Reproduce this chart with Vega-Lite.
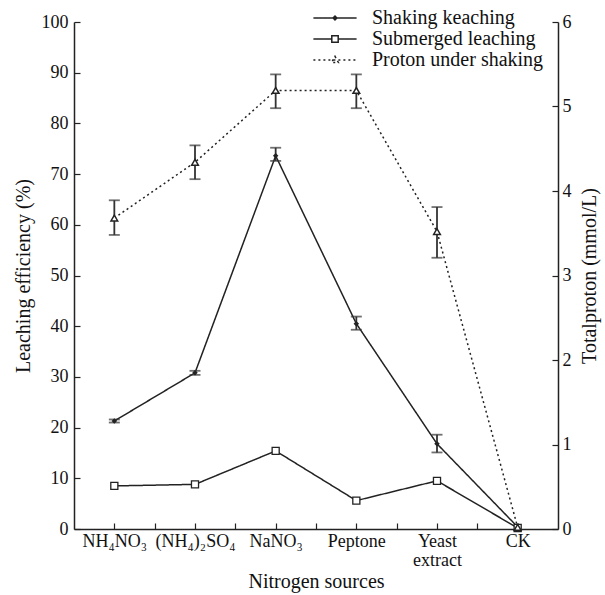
{
  "$schema": "https://vega.github.io/schema/vega-lite/v6.json",
  "width": 484,
  "height": 507,
  "autosize": {"type": "none"},
  "padding": {"left": 74, "top": 22, "right": 47, "bottom": 66},
  "background": "white",
  "config": {
    "font": "Liberation Serif",
    "view": {"stroke": null},
    "axis": {
      "grid": false,
      "domainColor": "#222",
      "domainWidth": 1.5,
      "tickColor": "#222",
      "tickWidth": 1.2,
      "tickSize": -6,
      "labelColor": "#111",
      "titleColor": "#111",
      "labelFont": "Liberation Serif",
      "titleFont": "Liberation Serif",
      "labelFontSize": 18,
      "titleFontSize": 20,
      "titleFontWeight": "normal"
    },
    "legend": {
      "labelFont": "Liberation Serif",
      "labelFontSize": 20,
      "labelColor": "#111",
      "labelLimit": 400
    }
  },
  "data": {
    "values": [
      {"idx": 1, "source": "NH4NO3", "series": "Shaking keaching", "value": 21.3, "lo": 21.0, "hi": 21.6},
      {"idx": 2, "source": "(NH4)2SO4", "series": "Shaking keaching", "value": 30.8, "lo": 30.4, "hi": 31.2},
      {"idx": 3, "source": "NaNO3", "series": "Shaking keaching", "value": 73.6, "lo": 72.6, "hi": 75.2},
      {"idx": 4, "source": "Peptone", "series": "Shaking keaching", "value": 40.5, "lo": 39.3, "hi": 41.9},
      {"idx": 5, "source": "Yeast extract", "series": "Shaking keaching", "value": 16.8, "lo": 15.1, "hi": 18.6},
      {"idx": 6, "source": "CK", "series": "Shaking keaching", "value": 0.4, "lo": null, "hi": null},
      {"idx": 1, "source": "NH4NO3", "series": "Submerged leaching", "value": 8.5, "lo": null, "hi": null},
      {"idx": 2, "source": "(NH4)2SO4", "series": "Submerged leaching", "value": 8.8, "lo": null, "hi": null},
      {"idx": 3, "source": "NaNO3", "series": "Submerged leaching", "value": 15.4, "lo": null, "hi": null},
      {"idx": 4, "source": "Peptone", "series": "Submerged leaching", "value": 5.6, "lo": null, "hi": null},
      {"idx": 5, "source": "Yeast extract", "series": "Submerged leaching", "value": 9.5, "lo": null, "hi": null},
      {"idx": 6, "source": "CK", "series": "Submerged leaching", "value": 0.2, "lo": null, "hi": null},
      {"idx": 1, "source": "NH4NO3", "series": "Proton under shaking", "value": 3.68, "lo": 3.48, "hi": 3.89},
      {"idx": 2, "source": "(NH4)2SO4", "series": "Proton under shaking", "value": 4.34, "lo": 4.14, "hi": 4.54},
      {"idx": 3, "source": "NaNO3", "series": "Proton under shaking", "value": 5.19, "lo": 4.98, "hi": 5.38},
      {"idx": 4, "source": "Peptone", "series": "Proton under shaking", "value": 5.19, "lo": 4.98, "hi": 5.38},
      {"idx": 5, "source": "Yeast extract", "series": "Proton under shaking", "value": 3.52, "lo": 3.21, "hi": 3.81},
      {"idx": 6, "source": "CK", "series": "Proton under shaking", "value": 0.02, "lo": null, "hi": null}
    ]
  },
  "encoding": {
    "x": {
      "field": "idx", "type": "quantitative",
      "scale": {"domain": [0.5, 6.5], "nice": false, "zero": false},
      "axis": {
        "title": "Nitrogen sources",
        "values": [1, 1.5, 2, 2.5, 3, 3.5, 4, 4.5, 5, 5.5, 6],
        "labelExpr": "['', 'NH₄NO₃', '(NH₄)₂SO₄', 'NaNO₃', 'Peptone', ['Yeast', 'extract'], 'CK'][datum.value] || ''",
        "labelPadding": 9,
        "labelFlush": false,
        "labelOverlap": false,
        "labelLineHeight": 19,
        "titlePadding": 2
      }
    }
  },
  "layer": [
    {
      "transform": [{"filter": "datum.series !== 'Proton under shaking'"}],
      "encoding": {
        "y": {
          "field": "value", "type": "quantitative",
          "scale": {"domain": [0, 100], "nice": false},
          "axis": {
            "title": "Leaching efficiency (%)",
            "values": [0, 10, 20, 30, 40, 50, 60, 70, 80, 90, 100],
            "labelPadding": 12,
            "titlePadding": 8
          }
        }
      },
      "layer": [
        {
          "mark": {"type": "line", "color": "#222", "strokeWidth": 1.5},
          "encoding": {
            "detail": {"field": "series"},
            "strokeDash": {
              "field": "series", "type": "nominal",
              "scale": {
                "domain": ["Shaking keaching", "Submerged leaching", "Proton under shaking"],
                "range": [[1, 0], [1, 0], [2, 3]]
              },
              "legend": {
                "title": null,
                "orient": "none",
                "legendX": 251,
                "legendY": -14,
                "padding": 0,
                "symbolSize": 256,
                "symbolStrokeColor": "#222",
                "symbolStrokeWidth": 1.5,
                "symbolFillColor": "white",
                "labelOffset": 27,
                "labelLimit": 400,
                "rowPadding": 1,
                "encode": {
                  "symbols": {
                    "update": {
                      "shape": {"signal": "datum.value === 'Shaking keaching' ? 'M-2.7,0H2.7M0,-0.25L0.25,0L0,0.25L-0.25,0Z' : datum.value === 'Submerged leaching' ? 'M-2.7,0H-0.4M0.4,0H2.7M-0.4,-0.4H0.4V0.4H-0.4Z' : 'M-2.7,0H2.7M0,-0.45L0.42,0.3H-0.42Z'"},
                      "fill": {"signal": "datum.value === 'Shaking keaching' ? '#222' : 'white'"},
                      "stroke": {"value": "#222"},
                      "strokeWidth": {"value": 1.5},
                      "strokeDash": {"signal": "datum.value === 'Proton under shaking' ? [2, 3] : [1, 0]"},
                      "opacity": {"value": 1}
                    }
                  }
                }
              }
            }
          }
        },
        {
          "transform": [{"filter": "datum.series === 'Shaking keaching' && datum.lo != null"}],
          "mark": {"type": "errorbar", "ticks": {"size": 11, "thickness": 1.8, "color": "#333"}, "rule": {"strokeWidth": 1.8, "color": "#333"}},
          "encoding": {
            "y": {"field": "lo", "type": "quantitative"},
            "y2": {"field": "hi"}
          }
        },
        {
          "transform": [{"filter": "datum.series === 'Shaking keaching'"}],
          "mark": {"type": "point", "shape": "diamond", "filled": true, "color": "#222", "size": 30, "opacity": 1}
        },
        {
          "transform": [{"filter": "datum.series === 'Submerged leaching'"}],
          "mark": {"type": "point", "shape": "square", "filled": true, "fill": "white", "stroke": "#222", "strokeWidth": 1.3, "size": 50, "opacity": 1}
        }
      ]
    },
    {
      "transform": [{"filter": "datum.series === 'Proton under shaking'"}],
      "encoding": {
        "y": {
          "field": "value", "type": "quantitative",
          "scale": {"domain": [0, 6], "nice": false},
          "axis": {
            "title": "Totalproton (mmol/L)",
            "orient": "right",
            "values": [0, 1, 2, 3, 4, 5, 6],
            "labelPadding": 10,
            "titleAngle": 270,
            "titleBaseline": "top",
            "titlePadding": 8
          }
        }
      },
      "layer": [
        {
          "mark": {"type": "line", "color": "#222", "strokeWidth": 1.5},
          "encoding": {
            "strokeDash": {"field": "series", "type": "nominal"}
          }
        },
        {
          "transform": [{"filter": "datum.lo != null"}],
          "mark": {"type": "errorbar", "ticks": {"size": 11, "thickness": 1.8, "color": "#333"}, "rule": {"strokeWidth": 1.8, "color": "#333"}},
          "encoding": {
            "y": {"field": "lo", "type": "quantitative"},
            "y2": {"field": "hi"}
          }
        },
        {
          "mark": {"type": "point", "shape": "triangle-up", "filled": true, "fill": "white", "stroke": "#222", "strokeWidth": 1.5, "size": 45, "opacity": 1}
        }
      ]
    }
  ],
  "resolve": {"scale": {"y": "independent"}}
}
